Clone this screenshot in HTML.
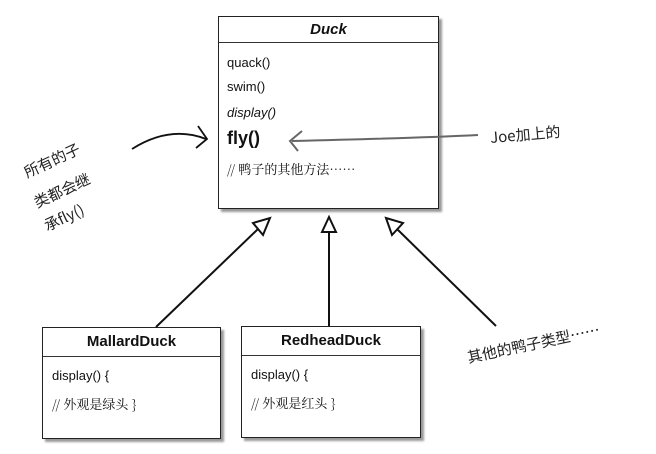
<!DOCTYPE html>
<html><head><meta charset="utf-8"><style>
body{margin:0;width:656px;height:454px;background:#fff;position:relative;overflow:hidden;font-family:"Liberation Sans","Noto Sans CJK SC",sans-serif;color:#111}
.box{position:absolute;border:1.5px solid #222;background:#fff;box-shadow:3px 3px 2px #999}
.hd{border-bottom:1.5px solid #333;text-align:center;font-weight:bold;font-size:15px}
.t{position:absolute;font-size:13px}
.h{position:absolute;font-family:"Noto Sans CJK SC",sans-serif;font-size:15px;color:#222;white-space:nowrap}
</style></head><body>
<div class="box" style="left:218px;top:16px;width:219px;height:191px">
 <div class="hd" style="height:25px;line-height:25px;font-style:italic">Duck</div>
 <div class="t" style="left:8px;top:38px">quack()</div>
 <div class="t" style="left:8px;top:62px">swim()</div>
 <div class="t" style="left:8px;top:88px;font-style:italic">display()</div>
 <div class="t" style="left:8px;top:111px;font-size:18px;font-weight:bold">fly()</div>
 <div class="t" style="left:8px;top:142px;font-family:'Noto Serif CJK SC',serif">// 鸭子的其他方法……</div>
</div>
<div class="box" style="left:42px;top:327px;width:177px;height:110px">
 <div class="hd" style="height:28px;line-height:28px">MallardDuck</div>
 <div class="t" style="left:9px;top:40px">display() {</div>
 <div class="t" style="left:9px;top:66px;font-family:'Noto Serif CJK SC',serif">// 外观是绿头 }</div>
</div>
<div class="box" style="left:241px;top:326px;width:178px;height:110px">
 <div class="hd" style="height:28px;line-height:28px">RedheadDuck</div>
 <div class="t" style="left:9px;top:40px">display() {</div>
 <div class="t" style="left:9px;top:66px;font-family:'Noto Serif CJK SC',serif">// 外观是红头 }</div>
</div>
<svg width="656" height="454" style="position:absolute;left:0;top:0" fill="none" stroke="#111" stroke-width="2">
 <line x1="258" y1="229" x2="156" y2="327"/>
 <line x1="329" y1="232" x2="329" y2="326"/>
 <line x1="397" y1="229" x2="496" y2="326"/>
 <polygon points="270,218 263,235 253,223" fill="#fff"/>
 <polygon points="329,217 336,232 322,232" fill="#fff"/>
 <polygon points="386,218 403,223 392,235" fill="#fff"/>
 <path d="M132 149 Q170 125 206 139" stroke-width="1.8"/>
 <path d="M198 126 L207 139 L196 148" stroke-width="1.8"/>
 <path d="M478 135 Q420 138 292 141" stroke="#666" stroke-width="2"/>
 <path d="M302 131 L290 141 L298 151" stroke="#666" stroke-width="2"/>
</svg>
<div class="h" style="left:22px;top:150px;transform:rotate(-25deg)">所有的子</div>
<div class="h" style="left:32px;top:180px;transform:rotate(-25deg)">类都会继</div>
<div class="h" style="left:43px;top:207px;transform:rotate(-25deg)">承fly()</div>
<div class="h" style="left:490px;top:124px;transform:rotate(-5deg)">Joe加上的</div>
<div class="h" style="left:466px;top:333px;transform:rotate(-12deg)">其他的鸭子类型……</div>
</body></html>
